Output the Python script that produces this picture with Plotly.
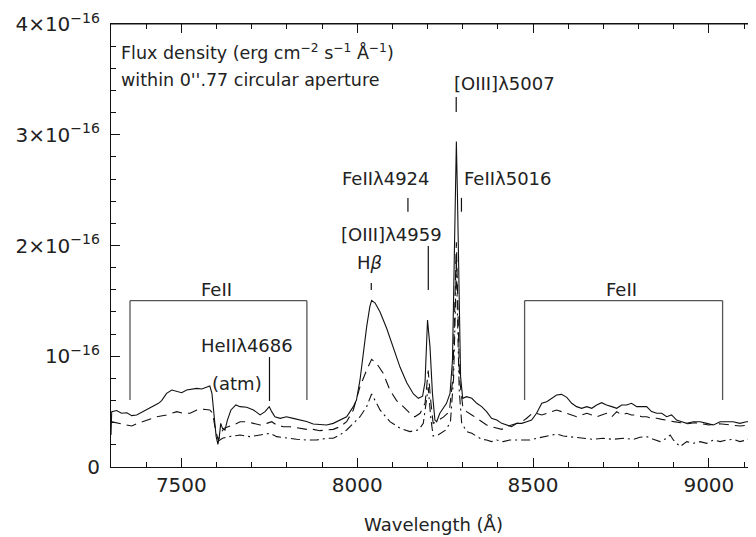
import numpy as np
import plotly.graph_objects as go

UNIT = 1e-16
Z = 0.654

# ---- spectra (wavelength in Angstrom, flux in units of 1e-16 erg/cm2/s/A) ----
wl_solid = [7300, 7302, 7316, 7330, 7345, 7359, 7373, 7387, 7401, 7416, 7435, 7444, 7458, 7473,
            7487, 7501, 7515, 7529, 7544, 7558, 7572, 7581, 7587, 7594, 7599, 7604, 7608, 7612,
            7617, 7624, 7631, 7641, 7655, 7667, 7686, 7705, 7724, 7738, 7750, 7757, 7766, 7781,
            7799, 7818, 7837, 7856, 7875, 7894, 7913, 7932, 7951, 7970, 7989, 7998, 8008, 8017,
            8027, 8036, 8041, 8051, 8065, 8084, 8103, 8122, 8141, 8160, 8174, 8186, 8193, 8200,
            8207, 8214, 8221, 8226, 8235, 8254, 8264, 8271, 8276, 8279, 8282, 8285, 8289, 8294,
            8300, 8311, 8326, 8340, 8354, 8368, 8382, 8397, 8411, 8425, 8439, 8454, 8468, 8482,
            8496, 8510, 8525, 8539, 8553, 8567, 8581, 8596, 8610, 8624, 8638, 8653, 8667, 8681,
            8695, 8709, 8724, 8738, 8752, 8766, 8780, 8795, 8809, 8823, 8837, 8852, 8866, 8880,
            8894, 8908, 8923, 8937, 8956, 8975, 8994, 9013, 9032, 9051, 9069, 9088, 9107, 9131, 9150]
fx_solid = [0.29, 0.50, 0.51, 0.485, 0.49, 0.464, 0.47, 0.494, 0.521, 0.545, 0.575, 0.60, 0.665, 0.695,
            0.68, 0.671, 0.695, 0.701, 0.71, 0.704, 0.725, 0.731, 0.665, 0.424, 0.274, 0.205, 0.274, 0.394,
            0.349, 0.334, 0.424, 0.515, 0.56, 0.545, 0.539, 0.515, 0.47, 0.50, 0.545, 0.50, 0.454, 0.439,
            0.454, 0.439, 0.424, 0.41, 0.388, 0.385, 0.379, 0.394, 0.424, 0.454, 0.545, 0.605, 0.786, 1.026,
            1.267, 1.448, 1.505, 1.48, 1.40, 1.25, 1.08, 0.90, 0.76, 0.66, 0.62, 0.64, 0.77, 1.327,
            1.087, 0.665, 0.424, 0.409, 0.485, 0.575, 0.665, 0.966, 1.869, 2.471, 2.938, 2.471, 1.568, 0.816,
            0.62, 0.635, 0.62, 0.575, 0.545, 0.50, 0.439, 0.424, 0.394, 0.379, 0.364, 0.394, 0.394, 0.409,
            0.424, 0.485, 0.575, 0.59, 0.62, 0.65, 0.656, 0.629, 0.575, 0.545, 0.53, 0.545, 0.53, 0.56,
            0.581, 0.56, 0.545, 0.53, 0.56, 0.56, 0.575, 0.545, 0.545, 0.545, 0.50, 0.485, 0.485, 0.454,
            0.47, 0.424, 0.409, 0.394, 0.409, 0.409, 0.394, 0.379, 0.409, 0.409, 0.409, 0.394, 0.409, 0.409, 0.41]

wl_dashed = [7300, 7316, 7330, 7345, 7359, 7373, 7401, 7430, 7458, 7487, 7506, 7525, 7544, 7563,
             7581, 7589, 7597, 7605, 7612, 7621, 7633, 7648, 7667, 7686, 7705, 7724, 7743, 7757,
             7771, 7790, 7809, 7837, 7856, 7875, 7894, 7913, 7932, 7951, 7970, 7989, 8008, 8027,
             8041, 8055, 8074, 8093, 8112, 8131, 8150, 8164, 8179, 8193, 8202, 8209, 8216, 8225,
             8245, 8262, 8272, 8278, 8282, 8286, 8291, 8300, 8311, 8326, 8340, 8354, 8368, 8382,
             8397, 8411, 8425, 8439, 8454, 8468, 8482, 8496, 8510, 8525, 8539, 8553, 8567, 8581,
             8596, 8610, 8624, 8638, 8653, 8667, 8681, 8695, 8709, 8724, 8738, 8752, 8766, 8780,
             8795, 8809, 8823, 8837, 8852, 8866, 8880, 8900, 8920, 8940, 8960, 8980, 9000, 9030,
             9060, 9090, 9120, 9150]
fx_dashed = [0.41, 0.40, 0.394, 0.38, 0.37, 0.39, 0.424, 0.454, 0.47, 0.50, 0.485, 0.485, 0.515, 0.521,
             0.515, 0.485, 0.334, 0.244, 0.304, 0.349, 0.364, 0.379, 0.409, 0.409, 0.394, 0.379, 0.394, 0.409,
             0.379, 0.364, 0.364, 0.349, 0.34, 0.34, 0.328, 0.334, 0.34, 0.364, 0.409, 0.515, 0.725, 0.876,
             0.972, 0.936, 0.846, 0.695, 0.60, 0.545, 0.485, 0.454, 0.485, 0.575, 0.87, 0.60, 0.394, 0.41,
             0.45, 0.50, 0.80, 1.50, 2.03, 1.50, 0.80, 0.55, 0.50, 0.47, 0.439, 0.41, 0.38, 0.364,
             0.349, 0.34, 0.364, 0.379, 0.40, 0.409, 0.44, 0.48, 0.485, 0.47, 0.485, 0.50, 0.515, 0.50,
             0.485, 0.47, 0.454, 0.47, 0.485, 0.47, 0.454, 0.47, 0.485, 0.454, 0.50, 0.47, 0.485, 0.47,
             0.47, 0.454, 0.454, 0.44, 0.44, 0.43, 0.424, 0.41, 0.40, 0.39, 0.40, 0.39, 0.38, 0.39,
             0.38, 0.37, 0.38, 0.38]

wl_dashdot = [7603, 7617, 7636, 7667, 7695, 7724, 7752, 7771, 7799, 7828, 7856, 7884, 7913, 7932,
              7951, 7970, 7989, 8008, 8027, 8041, 8055, 8065, 8093, 8122, 8150, 8175, 8188, 8202,
              8209, 8216, 8230, 8250, 8265, 8274, 8279, 8282, 8285, 8290, 8297, 8311, 8326, 8340,
              8354, 8368, 8382, 8397, 8415, 8434, 8454, 8472, 8491, 8510, 8529, 8548, 8567, 8586,
              8605, 8624, 8643, 8671, 8700, 8728, 8757, 8785, 8804, 8823, 8842, 8861, 8880, 8890,
              8899, 8918, 8937, 8956, 8975, 8994, 9013, 9032, 9051, 9069, 9088, 9107, 9131, 9150]
fx_dashdot = [0.229, 0.259, 0.274, 0.289, 0.274, 0.289, 0.304, 0.274, 0.259, 0.25, 0.244, 0.244, 0.259, 0.259,
              0.289, 0.334, 0.394, 0.454, 0.545, 0.659, 0.575, 0.515, 0.41, 0.35, 0.32, 0.335, 0.395, 0.72,
              0.45, 0.28, 0.29, 0.33, 0.40, 0.80, 1.40, 1.90, 1.40, 0.70, 0.40, 0.319, 0.304, 0.274,
              0.25, 0.244, 0.229, 0.244, 0.229, 0.244, 0.244, 0.25, 0.244, 0.259, 0.274, 0.289, 0.298, 0.28,
              0.274, 0.268, 0.259, 0.25, 0.259, 0.25, 0.259, 0.25, 0.268, 0.274, 0.25, 0.229, 0.259, 0.289,
              0.244, 0.184, 0.229, 0.214, 0.229, 0.214, 0.244, 0.229, 0.244, 0.25, 0.229, 0.244, 0.274, 0.27]

# ---- line identifications (rest wavelengths, redshifted with Z) ----
line_names = ["HeIIλ4686", "Hβ", "FeIIλ4924", "[OIII]λ4959", "[OIII]λ5007", "FeIIλ5016"]
line_rest = [4686, 4861, 4924, 4959, 5007, 5016]
feii_bands = [(7354, 7857), (8476, 9039)]

y_ticks = [0, 1, 2, 3, 4]
y_ticktext = ["0", "10<sup>−16</sup>", "2×10<sup>−16</sup>", "3×10<sup>−16</sup>", "4×10<sup>−16</sup>"]
x_ticks = [7500, 8000, 8500, 9000]
X_RANGE = [7300, 9134]
Y_RANGE = [0, 4 * UNIT]

FONT = "DejaVu Sans"
INK = "#111111"
GRAY = "#555555"

fig = go.Figure()
fig.add_trace(go.Scatter(x=wl_solid, y=np.array(fx_solid) * UNIT, mode="lines",
                         line=dict(color=INK, width=1.1), showlegend=False))
fig.add_trace(go.Scatter(x=wl_dashed, y=np.array(fx_dashed) * UNIT, mode="lines",
                         line=dict(color=INK, width=1.1, dash="10px,6px"), showlegend=False))
fig.add_trace(go.Scatter(x=wl_dashdot, y=np.array(fx_dashdot) * UNIT, mode="lines",
                         line=dict(color=INK, width=1.1, dash="9px,4px,2px,4px"), showlegend=False))
# invisible copies on the top and right axes so those axes are drawn
fig.add_trace(go.Scatter(x=wl_solid[:2], y=np.array(fx_solid[:2]) * UNIT, xaxis="x2", yaxis="y",
                         mode="lines", line=dict(width=0), opacity=0, showlegend=False, hoverinfo="skip"))
fig.add_trace(go.Scatter(x=wl_solid[:2], y=np.array(fx_solid[:2]) * UNIT, xaxis="x", yaxis="y2",
                         mode="lines", line=dict(width=0), opacity=0, showlegend=False, hoverinfo="skip"))

obs = {n: r * (1 + Z) for n, r in zip(line_names, line_rest)}

def vline(x, y0, y1, color=INK, width=1.2):
    fig.add_shape(type="line", x0=x, x1=x, y0=y0 * UNIT, y1=y1 * UNIT, xref="x", yref="y",
                  line=dict(color=color, width=width))

def label(x, y, text, anchor="center", size=18):
    fig.add_annotation(x=x, y=y * UNIT, text=text, showarrow=False, xanchor=anchor, yanchor="middle",
                       font=dict(family=FONT, size=size, color="#222222"))

# identification ticks
vline(obs["[OIII]λ5007"], 3.205, 3.34)
vline(obs["FeIIλ4924"], 2.305, 2.43)
vline(obs["FeIIλ5016"], 2.305, 2.43)
vline(obs["[OIII]λ4959"], 1.598, 1.995)
vline(obs["Hβ"], 1.598, 1.661)
vline(obs["HeIIλ4686"], 0.596, 0.993)

label(obs["[OIII]λ5007"] - 12, 3.467, "[OIII]λ5007", anchor="left")
label(8212, 2.607, "FeIIλ4924", anchor="right")
label(obs["FeIIλ5016"] + 2, 2.607, "FeIIλ5016", anchor="left")
label(8098, 2.095, "[OIII]λ4959")
label(8036, 1.85, "H<i>β</i>")
label(7686, 1.10, "HeIIλ4686")
label(7657, 0.75, "(atm)")

# FeII brackets
for (a, b) in feii_bands:
    for (x0, y0, x1, y1) in [(a, 0.605, a, 1.502), (a, 1.502, b, 1.502), (b, 1.502, b, 0.605)]:
        fig.add_shape(type="line", xref="x", yref="y", x0=x0, x1=x1, y0=y0 * UNIT, y1=y1 * UNIT,
                      line=dict(color=GRAY, width=1.3))
    label((a + b) / 2 - 5, 1.607, "FeII")

# top frame edge of the plotting box
fig.add_shape(type="line", xref="paper", yref="paper", x0=0, x1=1, y0=1, y1=1,
              line=dict(color=INK, width=1.2))

# header text
label(7322, 3.75, "Flux density (erg cm<sup>−2</sup> s<sup>−1</sup> Å<sup>−1</sup>)", anchor="left", size=17.5)
label(7322, 3.494, "within 0''.77 circular aperture", anchor="left", size=17.5)

tick_common = dict(ticks="inside", tickwidth=1.2, tickcolor=INK, showgrid=False, zeroline=False,
                   automargin=False)
x_minor = dict(dtick=100, tick0=0, ticks="inside", ticklen=4.5, tickwidth=1.1, tickcolor=INK, showgrid=False)

# the page body has an 8px default margin, so the figure is sized to end at the window edge
fig.update_layout(
    width=748, height=529,
    margin=dict(l=103, r=0, t=16, b=70, autoexpand=False),
    paper_bgcolor="white", plot_bgcolor="white",
    font=dict(family=FONT, size=20, color="#222222"),
    xaxis=dict(range=X_RANGE, tickvals=x_ticks, ticklen=9,
               showline=True, linecolor=INK, linewidth=1.2, minor=x_minor,
               title=dict(text="Wavelength (Å)", font=dict(family=FONT, size=18), standoff=22),
               tickfont=dict(family=FONT, size=20), **tick_common),
    xaxis2=dict(range=X_RANGE, overlaying="x", side="top", anchor="y", tickvals=x_ticks, ticklen=9,
                showline=True, linecolor=INK, linewidth=1.2, showticklabels=False, minor=x_minor,
                **tick_common),
    yaxis=dict(range=Y_RANGE, tickvals=[v * UNIT for v in y_ticks], ticktext=y_ticktext,
               ticklen=9, showline=True, linecolor=INK, linewidth=1.2,
               ticklabelstandoff=6,
               minor=dict(dtick=0.2 * UNIT, tick0=0, ticks="inside", ticklen=4.5, tickwidth=1.1,
                          tickcolor=INK, showgrid=False),
               tickfont=dict(family=FONT, size=20), **tick_common),
    yaxis2=dict(range=Y_RANGE, overlaying="y", side="right", anchor="x",
                tickvals=[v * UNIT for v in y_ticks], ticklen=4, showticklabels=False,
                showline=False, **tick_common),
)

fig.write_html("out.html")
